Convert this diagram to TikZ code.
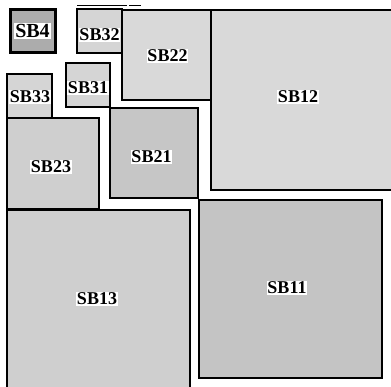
\documentclass[tikz,border=0pt]{standalone}
\usepackage{fontspec}
\setmainfont{Liberation Serif}
\begin{document}
\begin{tikzpicture}[x=1pt,y=-1pt,
  blk/.style={draw=black,line width=2.2pt},
  lbl/.style={fill=white,inner sep=0.8pt,font=\fontsize{18}{18}\selectfont\bfseries},
]
\useasboundingbox (0,0) rectangle (391,387);
\clip (0,0) rectangle (391,387);
% boxes
\draw[blk,fill=gray!30] (211,10) rectangle (400,190);
\draw[blk,fill=gray!30] (122,10) rectangle (211,100);
\draw[blk,fill=gray!33] (77,9) rectangle (122,53);
\draw[blk,fill=gray!65,line width=3pt] (10,10) rectangle (55,53);
\draw[blk,fill=gray!33] (66,63) rectangle (110,107);
\draw[blk,fill=gray!33] (7,74) rectangle (52,118);
\draw[blk,fill=gray!38] (7,118) rectangle (99,209);
\draw[blk,fill=gray!45] (110,108) rectangle (198,198);
\draw[blk,fill=gray!38] (7,210) rectangle (190,400);
\draw[blk,fill=gray!46] (199,200) rectangle (382,378);
% thin top marks
\draw[line width=0.8pt] (77,5) -- (127,5);
\draw[line width=0.8pt] (129,5) -- (141,5);
% labels
\node[lbl,font=\fontsize{20}{20}\selectfont\bfseries] (sb4) at (32.5,31) {SB4};
\node[lbl] (sb32) at (99.5,35) {SB32};
\node[lbl] (sb22) at (167.5,56) {SB22};
\node[lbl] (sb12) at (298,97) {SB12};
\node[lbl] (sb31) at (88,88) {SB31};
\node[lbl] (sb33) at (30,97) {SB33};
\node[lbl] (sb23) at (51,167) {SB23};
\node[lbl] (sb21) at (151.5,157) {SB21};
\node[lbl] (sb13) at (97,299) {SB13};
\node[lbl] (sb11) at (287,288) {SB11};
\end{tikzpicture}
\end{document}
